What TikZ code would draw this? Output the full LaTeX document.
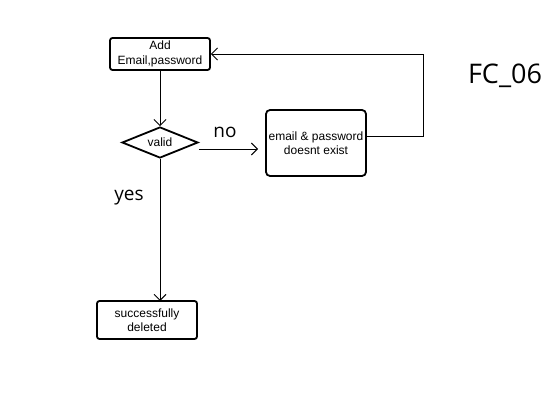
\documentclass[tikz,border=0pt]{standalone}
\usepackage{fontspec}
\setmainfont{Liberation Sans}
\newfontfamily\labfont{Open Sans}
\usetikzlibrary{shapes.geometric,arrows.meta}
\begin{document}
\begin{tikzpicture}[x=1pt,y=-1pt,
  proc/.style={draw,line width=1.8pt,rounded corners=2.5pt,align=center,font=\fontsize{12}{14.5}\selectfont,inner sep=0pt},
  dec/.style={draw,line width=1.8pt,diamond,aspect=2.45,inner sep=0pt,minimum width=76pt,minimum height=31pt,font=\fontsize{12}{14.5}\selectfont},
  conn/.style={line width=0.9pt,-{Straight Barb[length=6pt,width=12pt,line width=0.9pt]}},
  lab/.style={font=\labfont\fontsize{19}{22}\selectfont},
]
\useasboundingbox (0,0) rectangle (549,414);
\node[proc,minimum width=100pt,minimum height=32pt] (add) at (160,54) {\raisebox{-1.5pt}{Add}\\\raisebox{-1.5pt}{Email,password}};
\node[dec] (valid) at (160,142.5) {valid};
\node[proc,minimum width=100pt,minimum height=66pt,rounded corners=4pt] (nex) at (316,143) {email \& password\\doesnt exist};
\node[proc,minimum width=100pt,minimum height=38pt] (succ) at (147,320) {successfully\\deleted};
\node[lab] (no) at (225,132) {no};
\node[lab] (yes) at (129,198) {yes};
\node[font=\labfont\fontsize{27}{30}\selectfont] (fc) at (505,76) {FC\_06};
\coordinate (r1) at (423,136);
\coordinate (r2) at (423,54);
\draw[conn] (add.south) -- (valid.north);
\draw[conn] (valid.east |- 0,149) -- (258,149);
\draw[conn] (valid.south) -- (160,301);
\draw[conn] (nex.east |- r1) -- (r1) -- (r2) -- (add.east);
\end{tikzpicture}
\end{document}
